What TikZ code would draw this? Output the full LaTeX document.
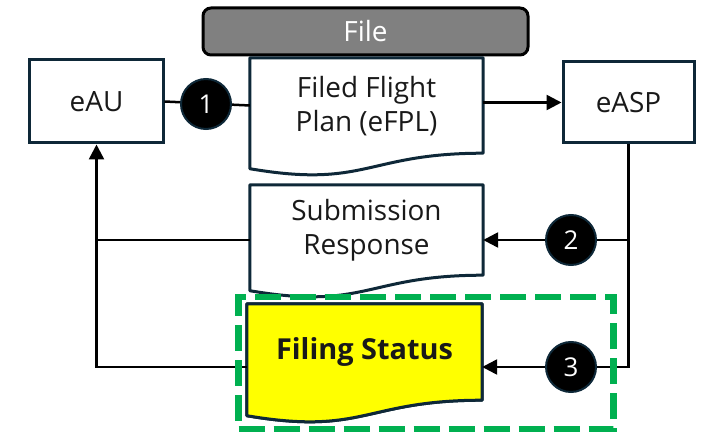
\documentclass[tikz,border=0pt]{standalone}
\usepackage{fontspec}
\setmainfont{Open Sans}
\usetikzlibrary{arrows.meta,calc}
\definecolor{navy}{HTML}{0E2838}
\definecolor{gboxc}{HTML}{808080}
\definecolor{grn}{HTML}{00B050}
\definecolor{yel}{HTML}{FFFF00}
\newcommand{\docoutline}[2]{%
  \path[#2] (#1.north west) -- (#1.north east) -- (#1.south east)
    .. controls (#1.south) and ($(#1.south)+(0,35.5)$) .. ($(#1.south west)+(0,15.5)$) -- cycle;}
\begin{document}
\begin{tikzpicture}[x=1bp,y=-1bp,
  txt/.style={font=\fontsize{28}{34}\selectfont,text=black!90},
  box/.style={txt,draw=navy,line width=3bp,fill=white,inner sep=0pt},
  docnode/.style={txt,inner sep=0pt,align=center},
  docline/.style={draw=navy,line width=3bp,fill=white,line join=round},
  num/.style={circle,fill=black,draw=navy,line width=2bp,minimum size=50bp,inner sep=0pt,text=white,font=\fontsize{26}{30}\selectfont},
  conn/.style={line width=2.5bp,black},
  arr/.style={conn,-{Triangle[length=15bp,width=15bp]}},
  grpbox/.style={draw=grn,line width=6.5bp,dash pattern=on 26bp off 9bp}]
\useasboundingbox (0,0) rectangle (702,436);
% header
\node[draw=black,line width=3bp,fill=gboxc,rounded corners=8bp,minimum width=325bp,minimum height=47bp,inner sep=0pt,text=white,font=\fontsize{28}{30}\selectfont] (file) at (365.5,31.5) {File};
% boxes
\node[box,minimum width=133bp,minimum height=83bp] (eau) at (96.5,101.5) {eAU};
\node[box,minimum width=131bp,minimum height=81bp] (easp) at (628.5,102.5) {eASP};
% documents
\node[docnode,minimum width=233bp,minimum height=95bp] (fp) at (366.5,105.5) {};
\docoutline{fp}{docline}
\node[docnode] (fpt) at ($(fp.center)+(0,1)$) {Filed Flight\\Plan (eFPL)};
\node[docnode,minimum width=233bp,minimum height=90bp] (sr) at (366.5,230) {};
\docoutline{sr}{docline}
\node[docnode] (srt) at ($(sr.center)+(0,0)$) {Submission\\Response};
\node[docnode,minimum width=235bp,minimum height=96bp] (fs) at (364.5,352) {};
\begin{scope}[yshift=-6bp]
\docoutline{fs}{docline}
\end{scope}
\docoutline{fs}{docline,fill=yel}
\node[docnode,font=\fontsize{29}{32}\selectfont\bfseries] (fst) at (fs.center) {Filing Status};
% numbered marker positions
\coordinate (c1) at (206,104);
\coordinate (c2) at (571,240);
\coordinate (c3) at (571,367);
% connectors
\coordinate (j2) at (easp.south |- c2);
\coordinate (j3) at (easp.south |- c3);
\draw[conn] (eau.east) -- (fp.west);
\draw[arr] (fp.east |- easp.west) -- (easp.west);
\draw[conn] (easp.south) -- (j3) -- (c3);
\draw[conn] (j2) -- (c2);
\draw[arr] (c2) -- (sr.east |- c2);
\draw[arr] (c3) -- (fs.east |- c3);
\draw[conn] (sr.west |- c2) -- (eau.south |- c2);
\draw[arr] (fs.west |- c3) -| (eau.south);
% numbered markers on top of lines
\node[num] (n1) at (c1) {1};
\node[num] (n2) at (c2) {2};
\node[num] (n3) at (c3) {3};
% group
\node[grpbox,minimum width=375bp,minimum height=132bp,inner sep=0pt] (grp) at (426,363) {};
\end{tikzpicture}
\end{document}
